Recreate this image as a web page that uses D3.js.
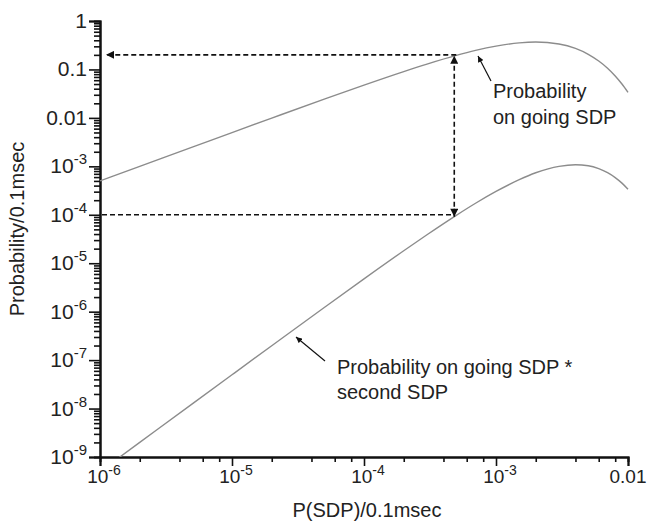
<!DOCTYPE html>
<html><head><meta charset="utf-8">
<script src="https://cdn.jsdelivr.net/npm/d3@7"></script>
<style>body{margin:0;background:#fff}text{font-family:"Liberation Sans",Arial,sans-serif;fill:#222}</style>
</head><body><svg id="c" width="648" height="522"></svg>
<script>
// ---- data ----
const pSDP = [1e-6,2e-6,5e-6,1e-5,2e-5,5e-5,1e-4,2e-4,3e-4,5e-4,7e-4,1e-3,1.5e-3,2e-3,3e-3,4e-3,5e-3,6e-3,7e-3,8e-3,9e-3,1e-2];
const probGoingSDP = [5.0e-4,9.99e-4,2.49e-3,4.98e-3,9.9e-3,0.0244,0.0476,0.0905,0.129,0.195,0.247,0.303,0.354,0.368,0.335,0.271,0.205,0.149,0.106,0.0733,0.05,0.0337];
const probSecondSDP = [5.0e-10,2.0e-9,1.25e-8,4.98e-8,1.98e-7,1.22e-6,4.76e-6,1.81e-5,3.87e-5,9.74e-5,1.73e-4,3.03e-4,5.31e-4,7.36e-4,1.0e-3,1.08e-3,1.03e-3,8.96e-4,7.4e-4,5.86e-4,4.5e-4,3.37e-4];
const xTicks = [1e-6,1e-5,1e-4,1e-3,1e-2];
const xTickLabels = [["10","-6"],["10","-5"],["10","-4"],["10","-3"],["0.01",""]];
const yTicks = [1,0.1,0.01,1e-3,1e-4,1e-5,1e-6,1e-7,1e-8,1e-9];
const yTickLabels = [["1",""],["0.1",""],["0.01",""],["10","-3"],["10","-4"],["10","-5"],["10","-6"],["10","-7"],["10","-8"],["10","-9"]];
const markerP = 5e-4, markerUpper = 0.2, markerLower = 1e-4;
const labelUpper = ["Probability","on going SDP"];
const labelLower = ["Probability on going SDP *","second SDP"];

const svg = d3.select("#c");
const x = d3.scaleLog().domain([1e-6,1e-2]).range([100,628]);
const y = d3.scaleLog().domain([1e-9,1]).range([457,21]);

const defs = svg.append("defs");
defs.append("clipPath").attr("id","clip")
  .append("rect").attr("x",100).attr("y",15).attr("width",540).attr("height",442);
defs.append("marker").attr("id","ah").attr("viewBox","0 0 10 10").attr("refX",10).attr("refY",5)
  .attr("markerWidth",9).attr("markerHeight",8).attr("markerUnits","userSpaceOnUse").attr("orient","auto")
  .append("path").attr("d","M0,0L10,5L0,10Z").attr("fill","#111");
defs.append("marker").attr("id","ahs").attr("viewBox","0 0 10 10").attr("refX",10).attr("refY",5)
  .attr("markerWidth",7).attr("markerHeight",6).attr("markerUnits","userSpaceOnUse").attr("orient","auto")
  .append("path").attr("d","M0,0L10,5L0,10Z").attr("fill","#111");

// minor ticks
const minorX = [];
for (let d=-6; d<-2; d++) for (const m of [2,4,6,8]) minorX.push(m*Math.pow(10,d));
const minorY = [];
for (let d=-9; d<0; d++) for (let m=2; m<=9; m++) minorY.push(m*Math.pow(10,d));

const gx = svg.append("g").attr("transform","translate(0,457)");
gx.call(d3.axisBottom(x).tickValues(minorX).tickSize(5).tickFormat(""));
gx.call(g=>g.append("g").call(d3.axisBottom(x).tickValues(xTicks).tickSize(9).tickFormat("")));
const gy = svg.append("g").attr("transform","translate(100,0)");
gy.call(d3.axisLeft(y).tickValues(minorY).tickSize(6).tickFormat(""));
gy.call(g=>g.append("g").call(d3.axisLeft(y).tickValues(yTicks).tickSize(11).tickFormat("")));
svg.selectAll(".domain").attr("stroke","#111").attr("stroke-width",2);
svg.selectAll(".tick line").attr("stroke","#111").attr("stroke-width",1.6);

// tick labels
xTicks.forEach((v,i)=>{
  const [b,s] = xTickLabels[i];
  const t = svg.append("text").attr("x",x(v)+(s?4:0)).attr("y",483).attr("text-anchor","middle").attr("font-size",19);
  t.append("tspan").text(b);
  if (s) t.append("tspan").attr("dy",-8).attr("font-size",14).text(s);
});
yTicks.forEach((v,i)=>{
  const [b,s] = yTickLabels[i];
  const t = svg.append("text").attr("x",87).attr("y",y(v)+7).attr("text-anchor","end").attr("font-size",21);
  t.append("tspan").text(b);
  if (s) t.append("tspan").attr("dy",-9).attr("font-size",15).text(s);
});

// axis titles
svg.append("text").attr("x",367).attr("y",517).attr("text-anchor","middle").attr("font-size",20).text("P(SDP)/0.1msec");
svg.append("text").attr("transform","translate(24,229) rotate(-90)").attr("text-anchor","middle").attr("font-size",20).text("Probability/0.1msec");

// curves
const line = d3.line().x(d=>x(d[0])).y(d=>y(d[1])).curve(d3.curveMonotoneX);
const plot = svg.append("g").attr("clip-path","url(#clip)");
plot.append("path").attr("d",line(pSDP.map((p,i)=>[p,probGoingSDP[i]]))).attr("fill","none").attr("stroke","#8c8c8c").attr("stroke-width",1.4);
plot.append("path").attr("d",line(pSDP.map((p,i)=>[p,probSecondSDP[i]]))).attr("fill","none").attr("stroke","#8c8c8c").attr("stroke-width",1.4);

// dashed guide lines
const dash = g=>g.attr("stroke","#111").attr("stroke-width",1.6).attr("stroke-dasharray","5,3").attr("fill","none");
svg.append("line").attr("x1",x(markerP)).attr("y1",y(markerUpper)).attr("x2",x(1e-6)+6).attr("y2",y(markerUpper)).call(dash).attr("marker-end","url(#ah)");
svg.append("line").attr("x1",x(1e-6)+2).attr("y1",y(markerLower)).attr("x2",x(markerP)-2).attr("y2",y(markerLower)).call(dash);
svg.append("line").attr("x1",x(markerP)-2).attr("y1",y(markerLower)-8).attr("x2",x(markerP)-2).attr("y2",y(markerUpper)+1).call(dash).attr("marker-end","url(#ah)");
svg.append("line").attr("x1",x(markerP)-2).attr("y1",y(markerLower)-6).attr("x2",x(markerP)-2).attr("y2",y(markerLower)+2).attr("stroke","#111").attr("stroke-width",1.6).attr("marker-end","url(#ah)");

// annotations
svg.append("line").attr("x1",491).attr("y1",81).attr("x2",478).attr("y2",56).attr("stroke","#111").attr("stroke-width",1.2).attr("marker-end","url(#ahs)");
svg.append("line").attr("x1",325).attr("y1",361).attr("x2",296).attr("y2",337).attr("stroke","#111").attr("stroke-width",1.2).attr("marker-end","url(#ahs)");
labelUpper.forEach((s,i)=>svg.append("text").attr("x",493).attr("y",98+i*26).attr("font-size",20).text(s));
labelLower.forEach((s,i)=>svg.append("text").attr("x",337).attr("y",374+i*25).attr("font-size",20).text(s));
</script></body></html>
